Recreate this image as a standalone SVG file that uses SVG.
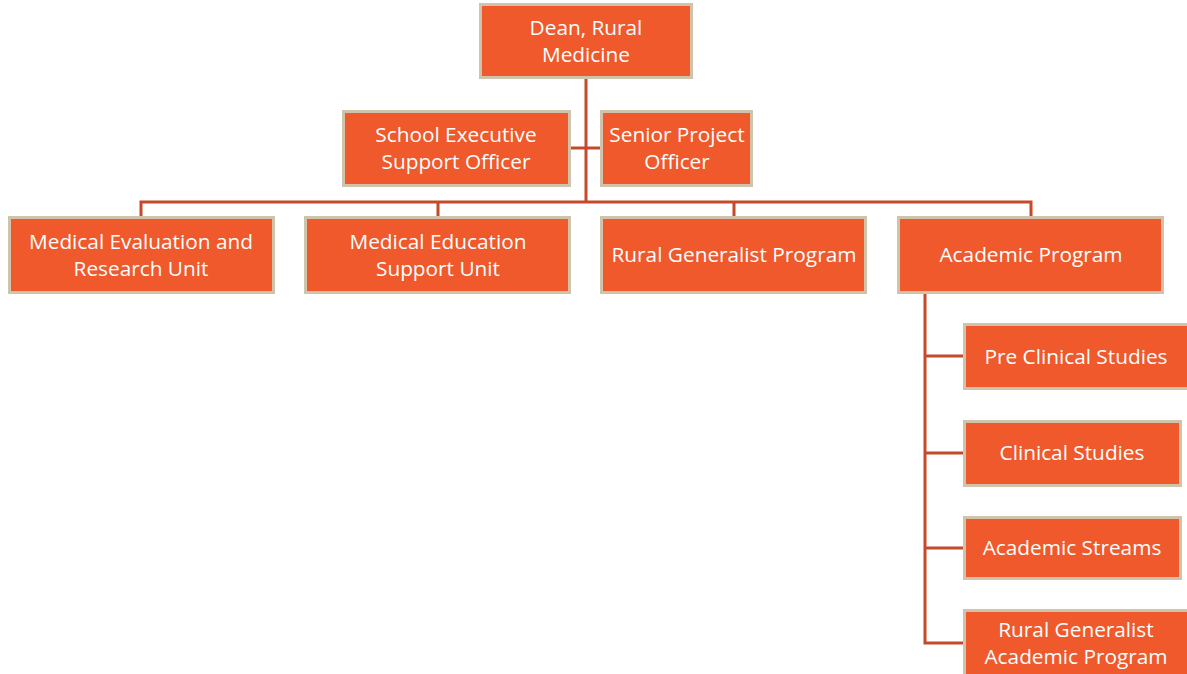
<svg xmlns="http://www.w3.org/2000/svg" width="1187" height="674" viewBox="0 0 1187 674">
<style>
.box{fill:#F0592B;stroke:#CFC3AB;stroke-width:3}
.t{fill:#ffffff;font-family:"Open Sans","Liberation Sans",sans-serif;font-size:20.8px;text-anchor:middle}
.c{fill:none;stroke:#C44B2A;stroke-width:3}
</style>
<rect width="1187" height="674" fill="#ffffff"/>
<g id="connectors">
<path class="c" d="M586 78V202"/>
<path class="c" d="M570 148H601"/>
<path class="c" d="M141 217V202H1031V217"/>
<path class="c" d="M438 202V217M734 202V217"/>
<path class="c" d="M925 293V643H964"/>
<path class="c" d="M925 356H964M925 453H964M925 548H964"/>
</g>
<g id="dean"><rect class="box" x="480.5" y="4.5" width="211" height="73"/><text class="t" x="586" y="35">Dean, Rural</text><text class="t" x="586" y="62">Medicine</text></g>
<g id="seso"><rect class="box" x="343.5" y="111.5" width="226" height="74"/><text class="t" x="456" y="142">School Executive</text><text class="t" x="456" y="169">Support Officer</text></g>
<g id="spo"><rect class="box" x="601.5" y="111.5" width="150" height="74"/><text class="t" x="677" y="142">Senior Project</text><text class="t" x="677" y="169">Officer</text></g>
<g id="meru"><rect class="box" x="9.5" y="217.5" width="264" height="75"/><text class="t" x="141" y="249">Medical Evaluation and</text><text class="t" x="141" y="276">Research Unit</text></g>
<g id="mesu"><rect class="box" x="305.5" y="217.5" width="264" height="75"/><text class="t" x="438" y="249">Medical Education</text><text class="t" x="438" y="276">Support Unit</text></g>
<g id="rgp"><rect class="box" x="601.5" y="217.5" width="264" height="75"/><text class="t" x="734" y="262">Rural Generalist Program</text></g>
<g id="ap"><rect class="box" x="898.5" y="217.5" width="264" height="75"/><text class="t" x="1031" y="262">Academic Program</text></g>
<g id="pcs"><rect class="box" x="964.5" y="324.5" width="224" height="64"/><text class="t" x="1076" y="364">Pre Clinical Studies</text></g>
<g id="cs"><rect class="box" x="964.5" y="421.5" width="216" height="64"/><text class="t" x="1072" y="460">Clinical Studies</text></g>
<g id="as"><rect class="box" x="964.5" y="517.5" width="216" height="61"/><text class="t" x="1072" y="555">Academic Streams</text></g>
<g id="rgap"><rect class="box" x="964.5" y="610.5" width="224" height="66"/><text class="t" x="1076" y="637">Rural Generalist</text><text class="t" x="1076" y="664">Academic Program</text></g>
</svg>
